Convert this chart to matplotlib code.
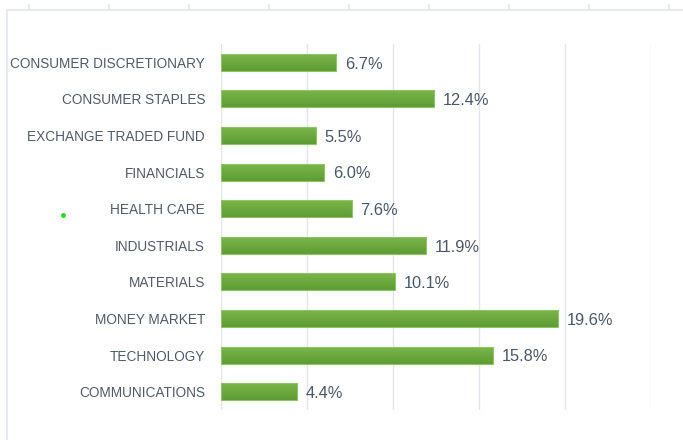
import numpy as np
import matplotlib
matplotlib.use("Agg")
import matplotlib.pyplot as plt
from matplotlib import font_manager
from matplotlib.colors import LinearSegmentedColormap
from matplotlib.lines import Line2D

sectors = ["CONSUMER DISCRETIONARY", "CONSUMER STAPLES", "EXCHANGE TRADED FUND",
           "FINANCIALS", "HEALTH CARE", "INDUSTRIALS", "MATERIALS",
           "MONEY MARKET", "TECHNOLOGY", "COMMUNICATIONS"]
weights = [6.7, 12.4, 5.5, 6.0, 7.6, 11.9, 10.1, 19.6, 15.8, 4.4]
x_ticks = [0, 5, 10, 15, 20, 25]

names = {f.name for f in font_manager.fontManager.ttflist}
if "Liberation Sans Narrow" in names:
    label_font, label_size = "Liberation Sans Narrow", 11.5
else:
    label_font, label_size = "Liberation Sans", 9.8

fig = plt.figure(figsize=(6.83, 4.4), dpi=100)
ax = fig.add_axes([221 / 683, 1 - 410 / 440, 430 / 683, 366 / 440])

green = LinearSegmentedColormap.from_list("g", ["#5e9b33", "#7ab64a"])
grad = np.linspace(0, 1, 64).reshape(-1, 1)
bar_h = 0.46
pos = np.arange(len(sectors))

for y, v in zip(pos, weights):
    ax.imshow(grad, cmap=green, aspect="auto", origin="upper",
              extent=(0, v, y - bar_h / 2, y + bar_h / 2), zorder=2)
    ax.add_patch(plt.Rectangle((0, y - bar_h / 2), v, bar_h, fill=False,
                               edgecolor="#8fc464", linewidth=0.8, zorder=3))
    ax.text(v + 0.5, y + 0.05, f"{v:.1f}%", va="center", ha="left",
            fontsize=11.8, color="#4b5668", family="Liberation Sans")

ax.set_xlim(0, 25)
ax.set_ylim(len(sectors) - 0.5, -0.5)
ax.set_xticks(x_ticks)
ax.set_xticklabels([])
ax.tick_params(axis="x", length=0)
ax.grid(axis="x", color="#e2e5ec", linewidth=1.0, zorder=0)
ax.set_axisbelow(True)
ax.set_yticks(pos)
ax.set_yticklabels(sectors, family=label_font, fontsize=label_size, color="#525a68")
ax.tick_params(axis="y", length=0, pad=11.5)
for s in ax.spines.values():
    s.set_visible(False)

# outer frame and the cut-off strip above it
W, H = 683, 440
fig.add_artist(Line2D([7 / W, 7 / W, 1], [0, 1 - 10 / H, 1 - 10 / H],
                      transform=fig.transFigure, color="#e3e5ed", linewidth=1.2))
for tx in range(29, 683, 80):
    fig.add_artist(Line2D([tx / W, tx / W], [1 - 5 / H, 1 - 10 / H],
                          transform=fig.transFigure, color="#e3e5ed", linewidth=1.2))
fig.add_artist(Line2D([63 / W], [1 - 215 / H], transform=fig.transFigure,
                      marker="o", markersize=2.5, color="#22dd22", linestyle="none"))

fig.savefig("out.png", dpi=100)
